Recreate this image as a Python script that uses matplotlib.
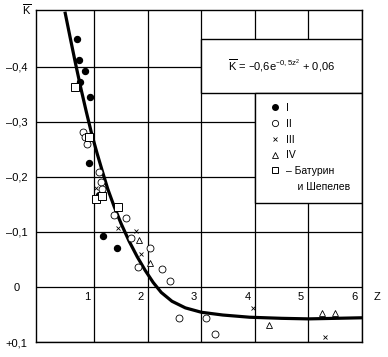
import matplotlib
matplotlib.use("Agg")
import matplotlib.pyplot as plt
from matplotlib.lines import Line2D
from matplotlib.patches import Rectangle

plt.rcParams["font.family"] = ["Liberation Sans", "DejaVu Sans"]
plt.rcParams["mathtext.default"] = "regular"

# fitted curve
curve_z = [0.45, 0.55, 0.65, 0.75, 0.85, 0.95, 1.05, 1.15, 1.25, 1.37, 1.50, 1.65,
           1.80, 1.95, 2.10, 2.25, 2.45, 2.70, 3.00, 3.40, 3.90, 4.50, 5.00, 5.50, 6.00]
curve_k = [-0.500, -0.452, -0.405, -0.360, -0.318, -0.278, -0.243, -0.210, -0.178,
           -0.146, -0.115, -0.083, -0.055, -0.030, -0.008, 0.010, 0.026, 0.038,
           0.046, 0.051, 0.055, 0.057, 0.058, 0.057, 0.056]

# series I (filled circles)
s1_z = [0.675, 0.705, 0.817, 0.723, 0.91, 0.90, 1.17, 1.43, 1.09]
s1_k = [-0.451, -0.412, -0.393, -0.373, -0.345, -0.226, -0.093, -0.071, -0.167]
# series II (open circles)
s2_z = [0.794, 0.83, 0.87, 1.09, 1.12, 1.15, 1.37, 1.59, 1.69, 2.04, 1.81, 2.27,
        2.42, 2.585, 3.08, 3.26]
s2_k = [-0.281, -0.272, -0.259, -0.209, -0.191, -0.177, -0.131, -0.126, -0.088,
        -0.071, -0.036, -0.032, -0.010, 0.057, 0.057, 0.086]
# series III (crosses)
s3_z = [1.03, 1.44, 1.77, 1.875, 3.97, 5.31]
s3_k = [-0.179, -0.107, -0.101, -0.059, 0.038, 0.091]
# series IV (triangles)
s4_z = [1.83, 2.04, 4.27, 5.25, 5.50]
s4_k = [-0.085, -0.044, 0.070, 0.048, 0.047]
# Baturin & Shepelev (squares)
s5_z = [0.64, 0.907, 1.03, 1.15, 1.445]
s5_k = [-0.364, -0.272, -0.160, -0.165, -0.146]

x_ticks = [1, 2, 3, 4, 5, 6]
y_ticks = [-0.4, -0.3, -0.2, -0.1, 0.0, 0.1]
y_labels = ["–0,4", "–0,3", "–0,2", "–0,1", "0", "+0,1"]

fig = plt.figure(figsize=(3.88, 3.57), dpi=100)
ax = fig.add_axes([0.0928, 0.042, 0.8402, 0.930])

ax.set_xlim(-0.09, 6.0)
ax.set_ylim(0.1, -0.503)

ax.set_xticks(x_ticks)
ax.set_xticklabels([])
ax.set_yticks(y_ticks)
ax.set_yticklabels(y_labels, fontsize=8)
for lbl in ax.get_yticklabels():
    lbl.set_horizontalalignment("center")
ax.tick_params(length=0)
ax.tick_params(axis="y", pad=14)
ax.grid(True, color="black", lw=0.9)
ax.set_axisbelow(True)
for sp in ax.spines.values():
    sp.set_linewidth(1.0)

for z in x_ticks:
    ax.text(z - 0.08, 0.018, str(z), ha="right", va="center", fontsize=8)

ax.text(-0.028, 1.0, r"$\overline{K}$", ha="center", va="center", fontsize=8,
        transform=ax.transAxes)
ax.text(1.046, 0.135, "Z", ha="center", va="center", fontsize=8,
        transform=ax.transAxes)

# white boxes for formula and legend
ax.add_patch(Rectangle((3.0, -0.451), 3.0, 0.098, facecolor="white",
                       edgecolor="black", lw=1.0, zorder=1))
ax.add_patch(Rectangle((4.0, -0.353), 2.0, 0.201, facecolor="white",
                       edgecolor="black", lw=1.0, zorder=1))
ax.text(4.5, -0.402, r"$\overline{K}$ = –0,6e$^{–0,5z^2}$ + 0,06",
        ha="center", va="center", fontsize=8, zorder=3)

ax.plot(curve_z, curve_k, color="black", lw=2.3, zorder=3, solid_capstyle="butt")

ax.plot(s1_z, s1_k, "o", ms=4.3, color="black", zorder=4)
ax.plot(s2_z, s2_k, "o", ms=5, mfc="white", mec="black", mew=0.6, zorder=4)
ax.plot(s3_z, s3_k, "x", ms=3.5, color="black", mew=0.6, zorder=4)
ax.plot(s4_z, s4_k, "^", ms=4.5, mfc="white", mec="black", mew=0.6, zorder=4)
ax.plot(s5_z, s5_k, "s", ms=5.2, mfc="white", mec="black", mew=0.7, zorder=4)

handles = [
    Line2D([], [], ls="none", marker="o", ms=4, color="black"),
    Line2D([], [], ls="none", marker="o", ms=4.5, mfc="white", mec="black", mew=0.6),
    Line2D([], [], ls="none", marker="x", ms=3.5, color="black", mew=0.6),
    Line2D([], [], ls="none", marker="^", ms=4.5, mfc="white", mec="black", mew=0.6),
    Line2D([], [], ls="none", marker="s", ms=5, mfc="white", mec="black", mew=0.7),
    Line2D([], [], ls="none"),
]
labels = ["I", "II", "III", "IV", "– Батурин", "    и Шепелев"]
leg = ax.legend(handles, labels, loc="upper left", frameon=False, fontsize=7.5,
                bbox_to_anchor=(4.3, -0.334), bbox_transform=ax.transData,
                handlelength=0.8, handletextpad=0.6, labelspacing=0.55,
                borderpad=0, borderaxespad=0)
leg.set_zorder(5)

fig.savefig("out.png", dpi=100)
